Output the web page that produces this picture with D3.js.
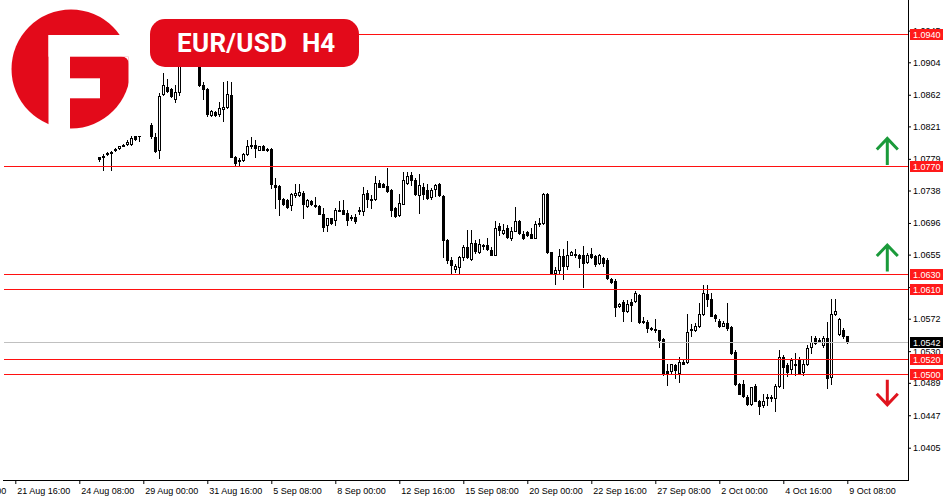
<!DOCTYPE html>
<html>
<head>
<meta charset="utf-8">
<script src="https://cdn.jsdelivr.net/npm/d3@7"></script>
<style>
  body { margin: 0; background: #fff; }
  svg { display: block; }
</style>
</head>
<body>
<script>
// EUR/USD H4 candles, bar index counted from 21 Aug 16:00 (first drawn bar = 21)
const firstBar = 21;

const opens = [
  1.0781,1.0781,1.0785,1.0787,1.0790,1.0793,1.0796,1.0798,1.0798,1.0808,
  1.0808,1.0813,1.0822,1.0823,1.0807,1.0790,1.0863,1.0872,1.0869,1.0857,
  1.0865,1.0904,1.0922,1.0917,1.0930,1.0903,1.0875,1.0869,1.0836,1.0840,
  1.0837,1.0844,1.0846,1.0862,1.0781,1.0777,1.0777,1.0785,1.0796,1.0797,
  1.0791,1.0795,1.0792,1.0792,1.0745,1.0744,1.0727,1.0726,1.0719,1.0732,
  1.0732,1.0735,1.0718,1.0725,1.0719,1.0718,1.0707,1.0693,1.0702,1.0700,
  1.0712,1.0713,1.0709,1.0704,1.0704,1.0711,1.0712,1.0735,1.0726,1.0727,
  1.0748,1.0747,1.0744,1.0739,1.0716,1.0706,1.0721,1.0748,1.0758,1.0751,
  1.0732,1.0743,1.0739,1.0729,1.0740,1.0746,1.0731,1.0674,1.0648,1.0637,
  1.0639,1.0652,1.0665,1.0649,1.0670,1.0659,1.0668,1.0668,1.0661,1.0655,
  1.0692,1.0683,1.0689,1.0677,1.0686,1.0698,1.0682,1.0684,1.0682,1.0677,
  1.0695,1.0696,1.0733,1.0658,1.0631,1.0635,1.0653,1.0640,1.0655,1.0656,
  1.0655,1.0654,1.0646,1.0656,1.0653,1.0644,1.0651,1.0648,1.0623,1.0621,
  1.0588,1.0593,1.0582,1.0594,1.0595,1.0603,1.0569,1.0568,1.0560,1.0559,
  1.0557,1.0546,1.0504,1.0504,1.0512,1.0502,1.0516,1.0516,1.0558,1.0557,
  1.0562,1.0578,1.0604,1.0597,1.0577,1.0569,1.0563,1.0566,1.0561,1.0529,
  1.0488,1.0487,1.0471,1.0462,1.0485,1.0465,1.0460,1.0469,1.0470,1.0469,
  1.0485,1.0523,1.0512,1.0507,1.0513,1.0519,1.0503,1.0513,1.0536,1.0547,
  1.0545,1.0538,1.0547,1.0496,1.0578,1.0552,1.0557,1.0549
];
const highs = [
  1.0782,1.0785,1.0788,1.0789,1.0793,1.0796,1.0798,1.0803,1.0808,1.0811,
  1.0815,1.0824,1.0832,1.0825,1.0812,1.0864,1.0890,1.0883,1.0871,1.0875,
  1.0910,1.0933,1.0938,1.0945,1.0935,1.0907,1.0879,1.0871,1.0842,1.0841,
  1.0852,1.0879,1.0880,1.0878,1.0783,1.0780,1.0787,1.0804,1.0807,1.0803,
  1.0796,1.0797,1.0793,1.0793,1.0754,1.0745,1.0728,1.0727,1.0735,1.0747,
  1.0747,1.0737,1.0727,1.0726,1.0729,1.0719,1.0715,1.0703,1.0703,1.0715,
  1.0724,1.0726,1.0713,1.0706,1.0708,1.0717,1.0743,1.0739,1.0732,1.0757,
  1.0752,1.0748,1.0767,1.0740,1.0717,1.0734,1.0762,1.0762,1.0762,1.0754,
  1.0759,1.0748,1.0747,1.0741,1.0747,1.0748,1.0732,1.0675,1.0652,1.0643,
  1.0653,1.0667,1.0687,1.0687,1.0674,1.0675,1.0669,1.0676,1.0665,1.0698,
  1.0696,1.0695,1.0693,1.0691,1.0717,1.0700,1.0685,1.0686,1.0689,1.0698,
  1.0703,1.0735,1.0735,1.0658,1.0639,1.0662,1.0662,1.0672,1.0660,1.0662,
  1.0656,1.0666,1.0657,1.0663,1.0654,1.0656,1.0652,1.0650,1.0625,1.0623,
  1.0592,1.0596,1.0596,1.0597,1.0608,1.0604,1.0574,1.0570,1.0561,1.0572,
  1.0558,1.0547,1.0513,1.0514,1.0513,1.0522,1.0518,1.0578,1.0565,1.0566,
  1.0592,1.0616,1.0616,1.0605,1.0578,1.0572,1.0569,1.0592,1.0562,1.0531,
  1.0489,1.0493,1.0473,1.0484,1.0488,1.0467,1.0475,1.0475,1.0473,1.0488,
  1.0531,1.0525,1.0515,1.0521,1.0528,1.0522,1.0518,1.0538,1.0549,1.0550,
  1.0547,1.0549,1.0568,1.0598,1.0598,1.0573,1.0560,1.0550
];
const lows = [
  1.0776,1.0765,1.0784,1.0765,1.0789,1.0792,1.0795,1.0797,1.0797,1.0803,
  1.0802,1.0812,1.0821,1.0806,1.0788,1.0780,1.0862,1.0866,1.0859,1.0853,
  1.0862,1.0899,1.0913,1.0910,1.0899,1.0873,1.0857,1.0834,1.0835,1.0835,
  1.0835,1.0828,1.0845,1.0781,1.0770,1.0771,1.0776,1.0784,1.0793,1.0781,
  1.0790,1.0790,1.0789,1.0741,1.0716,1.0706,1.0719,1.0716,1.0713,1.0730,
  1.0731,1.0702,1.0717,1.0719,1.0717,1.0707,1.0685,1.0685,1.0695,1.0693,
  1.0711,1.0707,1.0693,1.0700,1.0696,1.0708,1.0706,1.0717,1.0715,1.0726,
  1.0742,1.0742,1.0736,1.0705,1.0704,1.0705,1.0720,1.0747,1.0745,1.0732,
  1.0709,1.0727,1.0727,1.0727,1.0731,1.0731,1.0652,1.0644,1.0631,1.0633,
  1.0631,1.0648,1.0651,1.0648,1.0657,1.0657,1.0662,1.0661,1.0654,1.0654,
  1.0680,1.0682,1.0676,1.0674,1.0685,1.0682,1.0675,1.0679,1.0676,1.0676,
  1.0692,1.0695,1.0657,1.0630,1.0617,1.0631,1.0623,1.0637,1.0654,1.0652,
  1.0639,1.0613,1.0644,1.0650,1.0640,1.0643,1.0640,1.0623,1.0618,1.0575,
  1.0587,1.0569,1.0581,1.0569,1.0594,1.0567,1.0566,1.0555,1.0557,1.0555,
  1.0535,1.0499,1.0486,1.0501,1.0495,1.0490,1.0513,1.0515,1.0550,1.0556,
  1.0561,1.0577,1.0588,1.0575,1.0569,1.0561,1.0562,1.0558,1.0526,1.0486,
  1.0474,1.0471,1.0460,1.0460,1.0465,1.0449,1.0458,1.0460,1.0465,1.0452,
  1.0484,1.0482,1.0498,1.0501,1.0499,1.0500,1.0499,1.0512,1.0527,1.0539,
  1.0542,1.0536,1.0482,1.0488,1.0577,1.0551,1.0547,1.0541
];
const closes = [
  1.0779,1.0783,1.0787,1.0788,1.0792,1.0795,1.0797,1.0801,1.0806,1.0805,
  1.0812,1.0822,1.0823,1.0808,1.0789,1.0861,1.0875,1.0867,1.0860,1.0865,
  1.0904,1.0922,1.0917,1.0930,1.0903,1.0875,1.0870,1.0837,1.0841,1.0836,
  1.0845,1.0846,1.0863,1.0782,1.0773,1.0778,1.0785,1.0796,1.0797,1.0793,
  1.0795,1.0791,1.0790,1.0747,1.0743,1.0727,1.0720,1.0717,1.0734,1.0735,
  1.0736,1.0720,1.0726,1.0720,1.0718,1.0708,1.0691,1.0702,1.0696,1.0713,
  1.0713,1.0708,1.0700,1.0703,1.0698,1.0713,1.0734,1.0727,1.0727,1.0748,
  1.0743,1.0743,1.0738,1.0713,1.0705,1.0722,1.0752,1.0757,1.0752,1.0733,
  1.0745,1.0734,1.0728,1.0739,1.0745,1.0732,1.0674,1.0648,1.0642,1.0640,
  1.0652,1.0665,1.0652,1.0670,1.0660,1.0669,1.0667,1.0662,1.0655,1.0690,
  1.0687,1.0687,1.0678,1.0686,1.0698,1.0683,1.0677,1.0681,1.0677,1.0695,
  1.0696,1.0733,1.0659,1.0631,1.0635,1.0653,1.0640,1.0654,1.0658,1.0655,
  1.0651,1.0644,1.0654,1.0652,1.0643,1.0654,1.0644,1.0625,1.0620,1.0587,
  1.0591,1.0582,1.0591,1.0590,1.0605,1.0568,1.0568,1.0560,1.0559,1.0558,
  1.0544,1.0502,1.0502,1.0513,1.0505,1.0516,1.0513,1.0555,1.0559,1.0562,
  1.0578,1.0605,1.0597,1.0576,1.0573,1.0562,1.0567,1.0560,1.0527,1.0487,
  1.0475,1.0472,1.0462,1.0483,1.0466,1.0459,1.0465,1.0470,1.0471,1.0485,
  1.0523,1.0510,1.0503,1.0519,1.0512,1.0501,1.0513,1.0534,1.0542,1.0540,
  1.0544,1.0547,1.0495,1.0578,1.0582,1.0572,1.0550,1.0542
];

// price scale labels (right) and time labels (bottom, every 16 bars)
const priceTicks = [1.0945, 1.0904, 1.0862, 1.0821, 1.0779, 1.0738, 1.0696, 1.0655, 1.0613, 1.0572, 1.0530, 1.0489, 1.0447, 1.0405];
const timeLabels = ["18 Aug 00:00", "21 Aug 16:00", "24 Aug 08:00", "29 Aug 00:00", "31 Aug 16:00", "5 Sep 08:00", "8 Sep 00:00",
  "12 Sep 16:00", "15 Sep 08:00", "20 Sep 00:00", "22 Sep 16:00", "27 Sep 08:00", "2 Oct 00:00", "4 Oct 16:00", "9 Oct 08:00"];
const timeBars = timeLabels.map((d, i) => (i - 1) * 16);

// horizontal levels and current bid
const levels = [1.0940, 1.0770, 1.0630, 1.0610, 1.0520, 1.0500];
const bid = 1.0542;

// arrows: [bar, from price, to price, colour]
const arrows = [
  [218, 1.0771, 1.0806, "#1a9a3a"],
  [218, 1.0633, 1.0668, "#1a9a3a"],
  [218, 1.0493, 1.0460, "#e0141e"]
];

const W = 950, H = 500;
const plotRight = 908, plotBottom = 480, plotLeft = 4;
const red = "#e30a1a";

const svg = d3.select("body").append("svg").attr("width", W).attr("height", H);
svg.append("rect").attr("width", W).attr("height", H).attr("fill", "#fff");

const y = d3.scaleLinear().domain([1.0405, 1.0904]).range([447.7, 62.3]);
const x = d3.scaleLinear().domain([0, 16]).range([15.3, 79.3]);

const candles = opens.map((o, i) => ({ bar: firstBar + i, o: o, h: highs[i], l: lows[i], c: closes[i] }));

// candles
const cg = svg.append("g").attr("shape-rendering", "crispEdges");
candles.forEach(d => {
	const cx = Math.round(x(d.bar));
	cg.append("line").attr("x1", cx + 0.5).attr("x2", cx + 0.5)
		.attr("y1", Math.round(y(d.h))).attr("y2", Math.round(y(d.l)) + 1)
		.attr("stroke", "#000").attr("stroke-width", 1);
	const top = Math.round(y(Math.max(d.o, d.c)));
	const bot = Math.round(y(Math.min(d.o, d.c)));
	const hgt = Math.max(1, bot - top);
	if (d.c > d.o && hgt > 1) {
		cg.append("rect").attr("x", cx - 0.5).attr("y", top + 0.5).attr("width", 2).attr("height", hgt)
			.attr("fill", "#fff").attr("stroke", "#000").attr("stroke-width", 1);
	} else {
		cg.append("rect").attr("x", cx - 1).attr("y", top).attr("width", 3).attr("height", hgt + (d.c === d.o ? 0 : 1))
			.attr("fill", "#000");
	}
});

// level lines
const lg = svg.append("g").attr("shape-rendering", "crispEdges");
lg.append("line").attr("x1", plotLeft).attr("x2", plotRight)
	.attr("y1", Math.round(y(bid)) + 0.5).attr("y2", Math.round(y(bid)) + 0.5)
	.attr("stroke", "#c0c0c0");
levels.forEach(v => {
	lg.append("line").attr("x1", plotLeft).attr("x2", plotRight)
		.attr("y1", Math.round(y(v)) + 0.5).attr("y2", Math.round(y(v)) + 0.5)
		.attr("stroke", "#ff1010");
});

// logo: red disc with a white "F"
const logo = svg.append("g");
logo.append("rect").attr("x", 0).attr("y", 0).attr("width", 150).attr("height", 136).attr("fill", "#fff");
logo.append("circle").attr("cx", 71).attr("cy", 69).attr("r", 59.5).attr("fill", red);
logo.append("rect").attr("x", 48.5).attr("y", 35).attr("width", 90).attr("height", 21.7).attr("fill", "#fff");
logo.append("rect").attr("x", 48.5).attr("y", 35).attr("width", 21.5).attr("height", 100).attr("fill", "#fff");
logo.append("rect").attr("x", 69).attr("y", 78.3).attr("width", 31).attr("height", 20).attr("fill", "#fff");
logo.append("rect").attr("x", 128.5).attr("y", 50).attr("width", 10).attr("height", 86).attr("fill", "#fff");
logo.append("path").attr("d", "M121,56.5 L128.6,56.5 L128.6,64 Q128.6,56.5 121,56.5 Z").attr("fill", "#fff");

// title badge
svg.append("rect").attr("x", 150).attr("y", 19).attr("width", 209).attr("height", 48).attr("rx", 15)
	.attr("fill", red);
const title = svg.append("text").attr("y", 52.3).attr("fill", "#fff")
	.attr("font-family", "Roboto, 'Liberation Sans', sans-serif").attr("font-weight", 700).attr("font-size", 26);
title.append("tspan").attr("x", 177).attr("textLength", 110).text("EUR/USD");
title.append("tspan").attr("x", 302).text("H4");

// axes
const font = "'Liberation Sans', Arial, sans-serif";
const yAxis = svg.append("g").attr("transform", `translate(${plotRight},0)`)
	.call(d3.axisRight(y).tickValues(priceTicks).tickSize(3).tickPadding(2).tickFormat(d3.format(".4f")));
yAxis.select(".domain").remove();
yAxis.selectAll("text").attr("font-family", font).attr("font-size", 9).attr("fill", "#000");

const xAxis = svg.append("g").attr("transform", `translate(0,${plotBottom})`)
	.call(d3.axisBottom(x).tickValues(timeBars).tickSize(4).tickFormat((d, i) => timeLabels[i]));
xAxis.select(".domain").remove();
xAxis.selectAll("text").attr("font-family", font).attr("font-size", 9).attr("fill", "#000")
	.attr("text-anchor", "start").attr("x", 1.5).attr("dy", "0").attr("y", 14);

svg.append("line").attr("x1", plotRight + 0.5).attr("x2", plotRight + 0.5).attr("y1", 0).attr("y2", plotBottom + 1)
	.attr("stroke", "#000").attr("shape-rendering", "crispEdges");
svg.append("line").attr("x1", 3).attr("x2", plotRight + 1).attr("y1", plotBottom + 0.5).attr("y2", plotBottom + 0.5)
	.attr("stroke", "#000").attr("shape-rendering", "crispEdges");

// price boxes
function priceBox(v, fill) {
	const py = Math.round(y(v));
	svg.append("rect").attr("x", 910).attr("y", py - 5).attr("width", 33).attr("height", 11)
		.attr("fill", fill).attr("shape-rendering", "crispEdges");
	svg.append("text").attr("x", 913).attr("y", py + 3.5).attr("fill", "#fff")
		.attr("font-family", font).attr("font-size", 9).text(d3.format(".4f")(v));
}
levels.forEach(v => priceBox(v, "#ff1a1a"));
priceBox(bid, "#000");

// arrows
arrows.forEach(a => {
	const ax = x(a[0]);
	const y0 = y(a[1]), y1 = y(a[2]);
	const dir = y1 < y0 ? 1 : -1;
	svg.append("path")
		.attr("d", `M${ax},${y0}L${ax},${y1 + dir}M${ax - 10.5},${y1 + dir * 11.5}L${ax},${y1 + dir * 0.5}L${ax + 10.5},${y1 + dir * 11.5}`)
		.attr("fill", "none").attr("stroke", a[3]).attr("stroke-width", 3);
});
</script>
</body>
</html>
